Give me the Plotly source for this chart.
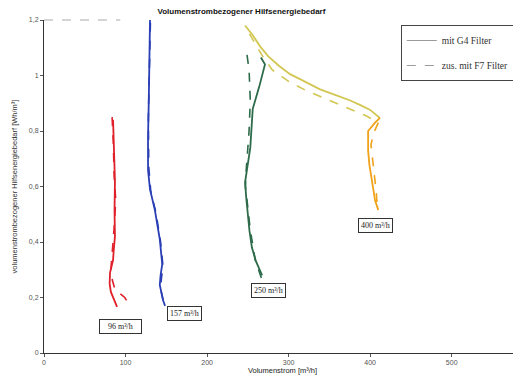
import plotly.graph_objects as go

# --- data ---
red_g4_x = [84.7, 86, 87, 86.5, 87, 85.5, 84.7, 81, 80.5, 82, 86, 89.6]
red_g4_y = [0.84, 0.75, 0.62, 0.51, 0.42, 0.37, 0.335, 0.29, 0.25, 0.22, 0.19, 0.166]
red_f7_x = [83.5, 85, 86, 88, 86, 84, 82, 84, 87, 93, 99, 105.5]
red_f7_y = [0.85, 0.76, 0.64, 0.55, 0.45, 0.36, 0.30, 0.26, 0.23, 0.215, 0.20, 0.17]

blue_g4_x = [130, 129.5, 128.5, 127.6, 127.6, 130, 136, 142, 145, 143, 142, 146, 148.5]
blue_g4_y = [1.2, 1.05, 0.91, 0.78, 0.66, 0.59, 0.515, 0.41, 0.32, 0.28, 0.245, 0.19, 0.17]
blue_f7_x = [130.5, 129, 128, 128.5, 131, 137, 143, 146, 144, 143, 147]
blue_f7_y = [1.19, 1.0, 0.85, 0.67, 0.58, 0.51, 0.40, 0.31, 0.27, 0.23, 0.18]

green_g4_x = [266, 271, 264, 256, 253, 250, 246.6, 248, 250, 252, 255, 260, 267.5]
green_g4_y = [1.065, 1.04, 0.96, 0.88, 0.74, 0.68, 0.615, 0.56, 0.50, 0.44, 0.38, 0.33, 0.28]
green_f7_x = [249, 251.5, 253, 251.5, 248, 247, 249, 253, 256, 259, 267.5]
green_f7_y = [1.074, 1.02, 0.91, 0.80, 0.66, 0.60, 0.55, 0.443, 0.39, 0.335, 0.263]

yellow_g4_x = [246.6, 256, 265, 274.8, 288, 301.8, 320, 338.6, 357, 375.5, 388, 400, 412]
yellow_g4_y = [1.18, 1.145, 1.105, 1.07, 1.035, 1.005, 0.978, 0.95, 0.93, 0.91, 0.893, 0.876, 0.847]
yellow_f7_x = [252, 260, 268, 280, 302, 320, 339, 358, 375.5, 395, 410]
yellow_f7_y = [1.15, 1.11, 1.07, 1.02, 0.975, 0.948, 0.925, 0.9, 0.88, 0.855, 0.83]

orange_g4_x = [412, 406, 397.5, 397.5, 399, 402.5, 406, 410]
orange_g4_y = [0.847, 0.83, 0.80, 0.73, 0.68, 0.62, 0.55, 0.515]
orange_f7_x = [410, 404, 401, 403, 406, 407.5, 408.6]
orange_f7_y = [0.83, 0.79, 0.75, 0.70, 0.64, 0.58, 0.53]

labels = ["&nbsp;&nbsp;&nbsp;96 m³/h&nbsp;&nbsp;&nbsp;", "157 m³/h", "250 m³/h", "400 m³/h"]
label_x = [94, 172, 275, 406]
label_y = [0.095, 0.144, 0.227, 0.461]

y_ticks = [0, 0.2, 0.4, 0.6, 0.8, 1.0, 1.2]
y_tick_text = ["0", "0,2", "0,4", "0,6", "0,8", "1", "1,2"]
x_ticks = [0, 100, 200, 300, 400, 500, 600]

fig = go.Figure()

series = [
    (red_g4_x, red_g4_y, red_f7_x, red_f7_y, "#e0202a"),
    (blue_g4_x, blue_g4_y, blue_f7_x, blue_f7_y, "#2a3fb5"),
    (green_g4_x, green_g4_y, green_f7_x, green_f7_y, "#2d6b4a"),
    (yellow_g4_x, yellow_g4_y, yellow_f7_x, yellow_f7_y, "#d2c752"),
    (orange_g4_x, orange_g4_y, orange_f7_x, orange_f7_y, "#f0a21a"),
]
for gx, gy, fx, fy, col in series:
    fig.add_trace(go.Scatter(x=fx, y=fy, mode="lines", showlegend=False,
                             line=dict(color=col, width=1.6, dash="dash")))
    fig.add_trace(go.Scatter(x=gx, y=gy, mode="lines", showlegend=False,
                             line=dict(color=col, width=1.8)))

# legend entries
fig.add_trace(go.Scatter(x=[None], y=[None], mode="lines", name="mit G4 Filter",
                         legendgroup="a", line=dict(color="#9a9a9a", width=1)))
fig.add_trace(go.Scatter(x=[None], y=[None], mode="lines", name="zus. mit F7 Filter",
                         legendgroup="b", line=dict(color="#9a9a9a", width=1, dash="dash")))

for t, x, y in zip(labels, label_x, label_y):
    fig.add_annotation(x=x, y=y, text=t, showarrow=False,
                       font=dict(family="Liberation Serif", size=8, color="#222"),
                       bordercolor="#333", borderwidth=1, borderpad=2,
                       bgcolor="white")

fig.add_shape(type="line", xref="paper", yref="paper", x0=0, x1=0.16, y0=1, y1=1,
              line=dict(color="#aaaaaa", width=1, dash="dash"))

# page body has an 8px margin, so the figure is 8px smaller and margins shifted
fig.update_layout(
    width=513, height=375,
    margin=dict(l=36, r=0, t=12, b=30),
    paper_bgcolor="white", plot_bgcolor="white",
    title=dict(text="<b>Volumenstrombezogener Hilfsenergiebedarf</b>",
               x=0.455, xanchor="center", y=0.998, yanchor="top",
               font=dict(family="Liberation Sans", size=8, color="#111")),
    legend=dict(x=0.748, y=0.985, xanchor="left", yanchor="top",
                bordercolor="#444", borderwidth=1, bgcolor="white",
                font=dict(family="Liberation Serif", size=9.5, color="#333"),
                itemwidth=30, tracegroupgap=6),
    showlegend=True,
)
fig.update_xaxes(range=[0, 585], tickvals=x_ticks, showgrid=False, zeroline=False,
                 showline=True, linecolor="#333", linewidth=1, automargin=False,
                 ticks="outside", ticklen=3, tickcolor="#555",
                 tickfont=dict(family="Liberation Sans", size=7, color="#555"),
                 title=dict(text="Volumenstrom [m³/h]", standoff=2,
                            font=dict(family="Liberation Sans", size=7.5, color="#222")))
fig.update_yaxes(range=[0, 1.2], tickvals=y_ticks, ticktext=y_tick_text,
                 showgrid=False, zeroline=False, automargin=False,
                 showline=True, linecolor="#333", linewidth=1,
                 ticks="outside", ticklen=3, tickcolor="#555",
                 tickfont=dict(family="Liberation Sans", size=7, color="#555"),
                 title=dict(text="volumenstrombezogener Hilfsenergiebedarf [Wh/m³]", standoff=10,
                            font=dict(family="Liberation Sans", size=7.5, color="#333")))

fig.write_html("out.html")
